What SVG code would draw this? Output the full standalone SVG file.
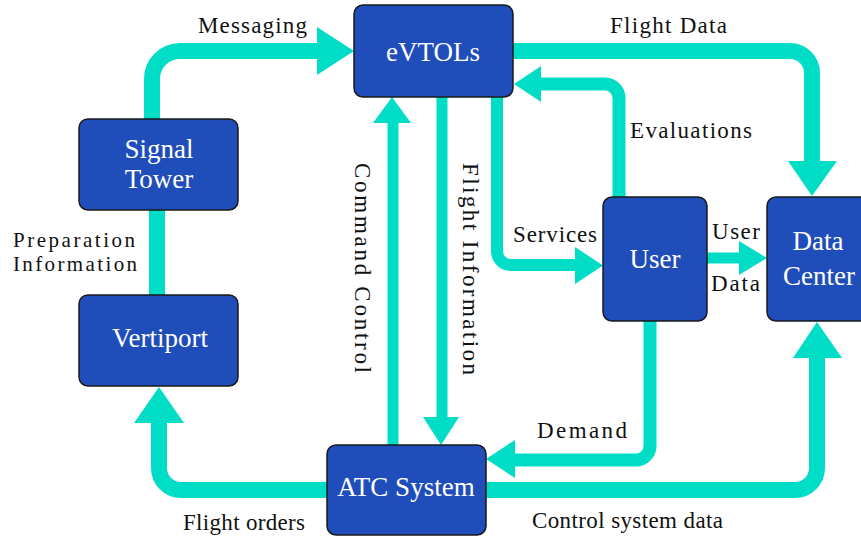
<svg xmlns="http://www.w3.org/2000/svg" width="861" height="539" viewBox="0 0 861 539">
<style>
.node rect{fill:#1F4DBA;stroke:#1a1a1a;stroke-width:1.5}
.node text{font-family:"Liberation Serif","Times New Roman",serif;font-size:27px;fill:#ffffff;text-anchor:middle}
.conn path,.conn line{fill:none;stroke:#00DDC7}
.conn polygon{fill:#00DDC7}
.lbl{font-family:"Liberation Serif","Times New Roman",serif;font-size:23px;fill:#111111}
.sm{font-size:21px}
</style>
<rect width="861" height="539" fill="#ffffff"/>
<g id="connectors" class="conn">
<path d="M152,119 V79 A28,28 0 0 1 180,51 H318" stroke-width="16"/>
<polygon points="317,27 354,51 317,75"/>
<line x1="157" y1="210" x2="157" y2="295" stroke-width="16"/>
<path d="M327,490 H181 A22,22 0 0 1 159,468 V422" stroke-width="16"/>
<polygon points="134,423 159,387 184,423"/>
<line x1="393" y1="445" x2="393" y2="122" stroke-width="11"/>
<polygon points="373,123 392,97 411,123"/>
<line x1="442" y1="97" x2="442" y2="418" stroke-width="11"/>
<polygon points="423,417 459,417 441,445"/>
<path d="M513,51 H790 A22,22 0 0 1 812,73 V162" stroke-width="16"/>
<polygon points="788,161 837,161 812,196"/>
<path d="M619,197 V98 A14,14 0 0 0 605,84 H540" stroke-width="13"/>
<polygon points="541,66 514,84 541,102"/>
<path d="M497,97 V251 A14,14 0 0 0 511,265 H576" stroke-width="12"/>
<polygon points="575,247 603,265.5 575,284"/>
<line x1="707" y1="258" x2="741" y2="258" stroke-width="11"/>
<polygon points="739,241 767,258 739,275"/>
<path d="M650,321 V446 A14,14 0 0 1 636,460 H514" stroke-width="13"/>
<polygon points="515,440 486,459 515,478"/>
<path d="M486,490 H795 A22,22 0 0 0 817,468 V357" stroke-width="16"/>
<polygon points="793,358 817,322 842,358"/>
</g>
<g id="evtols" class="node"><rect x="354" y="5" width="159" height="92" rx="9"/><text x="433" y="61">eVTOLs</text></g>
<g id="signal-tower" class="node"><rect x="79" y="119" width="159" height="91" rx="9"/><text x="159" y="158">Signal</text><text x="159" y="188">Tower</text></g>
<g id="vertiport" class="node"><rect x="79" y="295" width="159" height="91" rx="9"/><text x="160" y="347">Vertiport</text></g>
<g id="atc-system" class="node"><rect x="327" y="445" width="159" height="90" rx="9"/><text x="406" y="496">ATC System</text></g>
<g id="user" class="node"><rect x="603" y="197" width="104" height="124" rx="9"/><text x="655" y="268">User</text></g>
<g id="data-center" class="node"><rect x="767" y="197" width="110" height="124" rx="9"/><text x="818" y="250">Data</text><text x="819" y="285">Center</text></g>
<g id="labels">
<text class="lbl" x="198" y="33" textLength="109" lengthAdjust="spacing">Messaging</text>
<text class="lbl" x="610" y="33" textLength="117" lengthAdjust="spacing">Flight Data</text>
<text class="lbl" x="630" y="138" textLength="122" lengthAdjust="spacing">Evaluations</text>
<text class="lbl" x="513" y="242" textLength="84" lengthAdjust="spacing">Services</text>
<text class="lbl" x="712" y="239" textLength="48" lengthAdjust="spacing">User</text>
<text class="lbl" x="711" y="291" textLength="49" lengthAdjust="spacing">Data</text>
<text class="lbl" x="537" y="438" textLength="90" lengthAdjust="spacing">Demand</text>
<text class="lbl" x="532" y="528" textLength="191" lengthAdjust="spacing">Control system data</text>
<text class="lbl" x="183" y="530" textLength="122" lengthAdjust="spacing">Flight orders</text>
<text class="lbl sm" x="13" y="247" textLength="122" lengthAdjust="spacing">Preparation</text>
<text class="lbl sm" x="13" y="271" textLength="124" lengthAdjust="spacing">Information</text>
<text class="lbl" transform="translate(355,163) rotate(90)" textLength="210" lengthAdjust="spacing">Command Control</text>
<text class="lbl" transform="translate(463,163) rotate(90)" textLength="212" lengthAdjust="spacing">Flight Information</text>
</g>
</svg>
